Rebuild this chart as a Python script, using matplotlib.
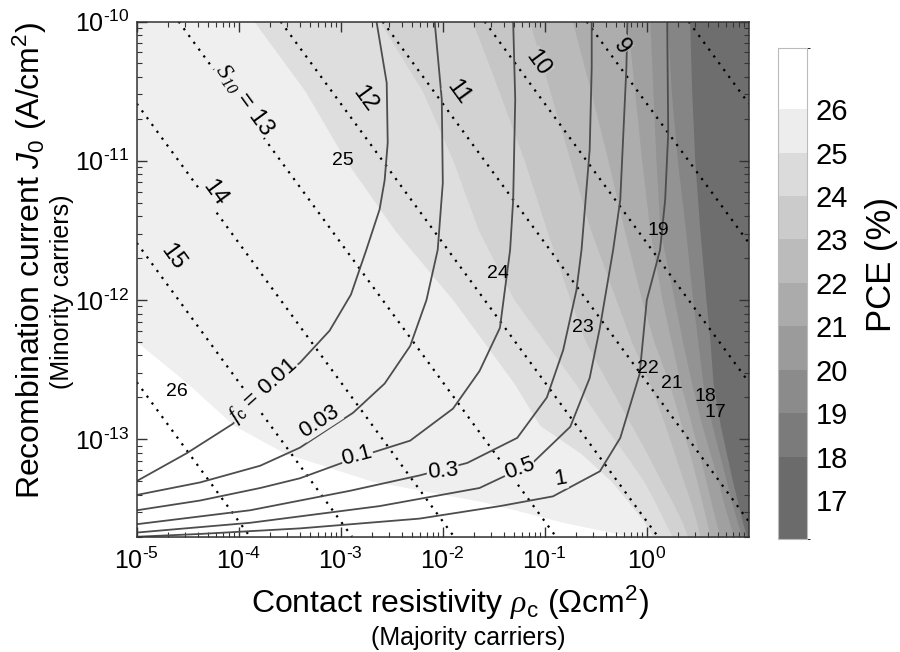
import numpy as np
import matplotlib.pyplot as plt
from matplotlib.colors import ListedColormap, BoundaryNorm
from matplotlib.colorbar import ColorbarBase
from matplotlib.ticker import LogLocator, NullFormatter, FixedFormatter

plt.rcParams.update({
    'font.family': ['Liberation Sans', 'DejaVu Sans'],
    'mathtext.fontset': 'custom',
    'mathtext.rm': 'Liberation Sans',
    'mathtext.it': 'Liberation Sans:italic',
    'mathtext.bf': 'Liberation Sans:bold',
    'mathtext.sf': 'Liberation Sans',
    'mathtext.cal': 'Liberation Serif:italic',
    'font.size': 14,
})

# ---- PCE (%) iso-lines (log10 units) ----
# rows of log10(J0); for each level, log10(rho_c) of the boundary at those rows
j0_rows = [-10.0, -10.5, -11.0, -11.5, -12.0, -12.3, -12.6, -12.9, -13.1, -13.3, -13.45, -13.6, -13.7]
edge_17 = [0.42, 0.44, 0.47, 0.52, 0.58, 0.62, 0.65, 0.72, 0.78, 0.84, 0.89, 0.94, 0.98]
edge_18 = [0.20, 0.24, 0.30, 0.38, 0.45, 0.50, 0.55, 0.64, 0.71, 0.78, 0.83, 0.89, 0.93]
edge_19 = [0.03, 0.06, 0.09, 0.13, 0.27, 0.35, 0.44, 0.54, 0.62, 0.70, 0.75, 0.81, 0.85]
edge_20 = [-0.19, -0.12, -0.05, 0.03, 0.15, 0.24, 0.33, 0.44, 0.51, 0.58, 0.63, 0.68, 0.72]
edge_21 = [-0.73, -0.55, -0.38, -0.22, -0.05, 0.07, 0.22, 0.34, 0.42, 0.49, 0.54, 0.59, 0.62]
edge_22 = [-1.15, -0.95, -0.75, -0.55, -0.30, -0.15, 0.03, 0.18, 0.27, 0.36, 0.43, 0.49, 0.52]
edge_23 = [-1.71, -1.45, -1.20, -0.98, -0.75, -0.60, -0.38, -0.15, 0.00, 0.14, 0.25, 0.35, 0.40]
edge_24 = [-2.62, -2.20, -1.90, -1.65, -1.30, -1.00, -0.70, -0.42, -0.22, -0.03, 0.08, 0.18, 0.25]
edge_25 = [-3.85, -3.35, -2.95, -2.47, -1.90, -1.60, -1.30, -1.05, -0.65, -0.35, -0.18, -0.02, 0.06]
edge_26 = [-5.0, -5.0, -5.0, -5.0, -5.0, -5.0, -4.50, -4.05, -3.55, -2.70, -1.60, -0.80, -0.14]
pce_levels = [17, 18, 19, 20, 21, 22, 23, 24, 25, 26]
pce_edges = [edge_17, edge_18, edge_19, edge_20, edge_21, edge_22, edge_23,
             edge_24, edge_25, edge_26]

# grey of each band in the map, lowest (<17) to highest (>26)
band_colors = ['#6e6e6e', '#858585', '#939393', '#a0a0a0', '#adadad', '#bababa',
               '#c6c6c6', '#d2d2d2', '#dedede', '#efefef', '#ffffff']

# colour bar segments
cbar_bounds = [16.1, 18, 19, 20, 21, 22, 23, 24, 25, 26, 27.4]
cbar_colors = ['#6b6b6b', '#7b7b7b', '#8b8b8b', '#9b9b9b', '#ababab',
               '#bbbbbb', '#cbcbcb', '#dbdbdb', '#ededed', '#ffffff']
cbar_ticks = [17, 18, 19, 20, 21, 22, 23, 24, 25, 26]

# axis ticks
x_ticks = [1e-5, 1e-4, 1e-3, 1e-2, 1e-1, 1e0]
x_tick_labels = ['-5', '-4', '-3', '-2', '-1', '0']
y_ticks = [1e-13, 1e-12, 1e-11, 1e-10]
y_tick_labels = ['-13', '-12', '-11', '-10']

# contour value labels: text, log10(rho_c), log10(J0)
pce_lab_text = ['26', '25', '24', '23', '22', '21', '19', '18', '17']
pce_lab_x = [-4.61, -2.98, -1.46, -0.63, 0.01, 0.245, 0.11, 0.57, 0.67]
pce_lab_y = [-12.66, -11.00, -11.81, -12.20, -12.49, -12.60, -11.50, -12.69, -12.81]

# ---- selectivity S10 (dotted lines), end points in log10 units ----
s10_values = [8, 9, 10, 11, 12, 13, 14, 15, 16]
s10_x0 = [0.41, -0.59, -1.59, -2.59, -3.59, -4.59, -5.0, -5.0, -5.0]
s10_y0 = [-10.0, -10.0, -10.0, -10.0, -10.0, -10.0, -10.59, -11.59, -12.59]
s10_x1 = [1.0, 1.0, 1.0, 1.0, 0.11, -0.89, -1.89, -2.89, -3.89]
s10_y1 = [-10.59, -11.59, -12.59, -13.59, -13.7, -13.7, -13.7, -13.7, -13.7]
s10_lab_text = ['9', '10', '11', '12', r'$\mathcal{S}_{\mathcal{10}}$ = 13', '14', '15']
s10_lab_x = [-0.25, -1.07, -1.85, -2.76, -3.94, -4.24, -4.65]
s10_lab_y = [-10.18, -10.30, -10.51, -10.56, -10.56, -11.23, -11.69]

# ---- f_c lines (solid), points in log10 units ----
fc_001_x = [-5, -4.51, -4.06, -3.75, -3.40, -3.11, -2.90, -2.75, -2.62, -2.57, -2.54, -2.55, -2.65]
fc_001_y = [-13.30, -13.10, -12.89, -12.66, -12.45, -12.22, -11.96, -11.64, -11.35, -11.14, -10.87, -10.44, -10.0]
fc_003_x = [-5, -4.38, -3.79, -3.40, -3.11, -2.88, -2.57, -2.32, -2.16, -2.05, -2.0, -2.01, -2.08]
fc_003_y = [-13.40, -13.31, -13.19, -13.06, -12.92, -12.81, -12.60, -12.33, -12.0, -11.64, -11.16, -10.56, -10.0]
fc_01_x = [-5, -4.38, -3.79, -3.40, -2.84, -2.32, -1.90, -1.64, -1.44, -1.34, -1.31, -1.29, -1.31]
fc_01_y = [-13.51, -13.44, -13.35, -13.28, -13.13, -13.01, -12.78, -12.51, -12.20, -11.64, -11.28, -10.56, -10.0]
fc_03_x = [-5, -3.89, -2.91, -2.23, -1.76, -1.27, -0.98, -0.82, -0.69, -0.64, -0.56, -0.54, -0.54]
fc_03_y = [-13.61, -13.51, -13.37, -13.26, -13.17, -12.99, -12.70, -12.36, -11.93, -11.64, -10.92, -10.33, -10.0]
fc_05_x = [-5, -3.89, -2.62, -1.64, -1.12, -0.75, -0.56, -0.46, -0.33, -0.26, -0.20, -0.19]
fc_05_y = [-13.67, -13.60, -13.48, -13.35, -13.17, -12.91, -12.56, -12.20, -11.64, -11.28, -10.33, -10.0]
fc_1_x = [-5, -4.38, -3.40, -2.23, -1.44, -0.92, -0.46, -0.26, -0.07, 0.0, 0.13, 0.18, 0.21, 0.20]
fc_1_y = [-13.70, -13.68, -13.64, -13.57, -13.48, -13.41, -13.23, -12.99, -12.53, -12.0, -11.64, -11.28, -10.80, -10.0]
fc_lines = [(fc_001_x, fc_001_y), (fc_003_x, fc_003_y), (fc_01_x, fc_01_y),
            (fc_03_x, fc_03_y), (fc_05_x, fc_05_y), (fc_1_x, fc_1_y)]
fc_lab_text = [r'$\mathcal{f}_{\mathrm{c}}$ = 0.01', '0.03', '0.1', '0.3', '0.5', '1']
fc_lab_x = [-3.76, -3.21, -2.84, -2.00, -1.25, -0.85]
fc_lab_y = [-12.65, -12.87, -13.12, -13.23, -13.21, -13.28]
fc_lab_rot = [42, 33, 15, 5, 20, 10]


def band_color(x, y):
    """Grey of the PCE band at (log rho_c, log J0)."""
    k = 0
    for edge in pce_edges:
        if x < np.interp(y, j0_rows[::-1], edge[::-1]):
            k += 1
    return band_colors[k]


def pow_labels(exps):
    # MATLAB-like 10^n labels: large base, small raised exponent with a short hyphen
    return [r'10$^{\mathregular{%s}}$' % e.replace('-', '\u2010') for e in exps]


fig = plt.figure(figsize=(9, 6.52), dpi=100)
ax = fig.add_axes([0.152, 0.177, 0.680, 0.790])
ax.set_xscale('log')
ax.set_yscale('log')
ax.set_xlim(1e-5, 1e1)
ax.set_ylim(2e-14, 1e-10)
ax.set_facecolor(band_colors[0])

rows = 10.0 ** np.array(j0_rows)
for i, edge in enumerate(pce_edges):
    ax.fill_betweenx(rows, 1e-5, 10.0 ** np.array(edge), color=band_colors[i + 1],
                     lw=0, zorder=1)

for t, x, y in zip(pce_lab_text, pce_lab_x, pce_lab_y):
    ax.text(10 ** x, 10 ** y, t, fontsize=14, ha='center', va='center', zorder=5)

for x0, y0, x1, y1 in zip(s10_x0, s10_y0, s10_x1, s10_y1):
    ax.plot([10 ** x0, 10 ** x1], [10 ** y0, 10 ** y1], color='black',
            lw=1.6, ls=(0, (1, 2.8)), zorder=3)

for t, x, y in zip(s10_lab_text, s10_lab_x, s10_lab_y):
    ax.text(10 ** x, 10 ** y, t, fontsize=17, ha='center', va='center',
            rotation=-54, rotation_mode='anchor', zorder=6,
            bbox=dict(fc=band_color(x, y), ec='none', pad=0.5))

for xs, ys in fc_lines:
    ax.plot(10.0 ** np.array(xs), 10.0 ** np.array(ys), color='#4d4d4d', lw=1.3, zorder=4)

for t, x, y, r in zip(fc_lab_text, fc_lab_x, fc_lab_y, fc_lab_rot):
    ax.text(10 ** x, 10 ** y, t, fontsize=16, ha='center', va='center',
            rotation=r, rotation_mode='anchor', zorder=6,
            bbox=dict(fc=band_color(x, y), ec='none', pad=0.5))

ax.set_xticks(x_ticks)
ax.xaxis.set_major_formatter(FixedFormatter(pow_labels(x_tick_labels)))
ax.set_yticks(y_ticks)
ax.yaxis.set_major_formatter(FixedFormatter(pow_labels(y_tick_labels)))
ax.xaxis.set_minor_locator(LogLocator(base=10, subs=np.arange(2, 10)))
ax.yaxis.set_minor_locator(LogLocator(base=10, subs=np.arange(2, 10)))
ax.xaxis.set_minor_formatter(NullFormatter())
ax.yaxis.set_minor_formatter(NullFormatter())
ax.tick_params(which='both', direction='in', top=True, right=True, labelsize=18,
               color='#333333')
ax.tick_params(which='major', length=7, width=1)
ax.tick_params(which='minor', length=3.5, width=0.8)
ax.tick_params(axis='x', which='major', pad=8)
ax.tick_params(axis='y', which='major', pad=5)
for sp in ax.spines.values():
    sp.set_color('#333333')
    sp.set_linewidth(1.1)
    sp.set_zorder(10)

fig.text(0.033, 0.60, r'Recombination current $J_{\mathit{0}}$ (A/cm$^2$)', rotation=90,
         fontsize=23, ha='center', va='center')
fig.text(0.069, 0.552, '(Minority carriers)', rotation=90, fontsize=18,
         ha='center', va='center')
fig.text(0.50, 0.075, r'Contact resistivity $\mathcal{\rho}_{\mathrm{c}}$ (Ωcm$^2$)',
         fontsize=23, ha='center', va='center')
fig.text(0.52, 0.021, '(Majority carriers)', fontsize=18, ha='center', va='center')

cax = fig.add_axes([0.864, 0.173, 0.033, 0.753])
cb = ColorbarBase(cax, cmap=ListedColormap(cbar_colors),
                  norm=BoundaryNorm(cbar_bounds, len(cbar_colors)),
                  boundaries=cbar_bounds, ticks=cbar_ticks, spacing='proportional')
cb.outline.set_edgecolor('#bbbbbb')
cax.tick_params(length=0, labelsize=21, pad=6)
cax.set_ylabel('PCE (%)', fontsize=25)
cax.yaxis.set_label_coords(2.95, 0.56)

fig.savefig('out.png', dpi=100)
